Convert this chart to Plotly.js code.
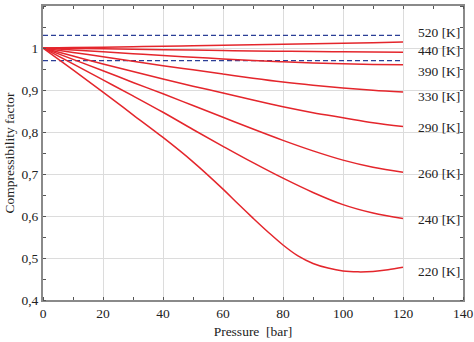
<!DOCTYPE html>
<html>
<head>
<meta charset="utf-8">
<script src="https://cdn.plot.ly/plotly-3.0.1.min.js"></script>
<style>html,body{margin:0;padding:0;background:#fff;}#chart{width:474px;height:342px;}</style>
</head>
<body>
<div id="chart"></div>
<script>
// Pressure [bar]
var pressure = [0, 10, 20, 30, 40, 50, 60, 70, 80, 90, 100, 110, 120];
var pressure220 = [0, 10, 20, 30, 40, 50, 60, 65, 70, 75, 80, 85, 90, 95, 100, 105, 110, 115, 120];
// Compressibility factor per temperature
var z520 = [1, 1.001, 1.002, 1.003, 1.004, 1.0053, 1.0065, 1.0077, 1.009, 1.0102, 1.0115, 1.0127, 1.014];
var z440 = [1, 0.999, 0.998, 0.997, 0.996, 0.995, 0.994, 0.993, 0.9922, 0.9915, 0.991, 0.9905, 0.990];
var z390 = [1, 0.9955, 0.991, 0.9865, 0.982, 0.978, 0.974, 0.970, 0.967, 0.9645, 0.9625, 0.961, 0.960];
var z330 = [1, 0.9895, 0.979, 0.9685, 0.958, 0.948, 0.938, 0.928, 0.919, 0.9115, 0.905, 0.8995, 0.895];
var z290 = [1, 0.981, 0.962, 0.944, 0.926, 0.909, 0.893, 0.876, 0.860, 0.846, 0.834, 0.822, 0.813];
var z260 = [1, 0.973, 0.946, 0.918, 0.891, 0.863, 0.835, 0.807, 0.780, 0.755, 0.733, 0.716, 0.704];
var z240 = [1, 0.962, 0.924, 0.886, 0.847, 0.806, 0.766, 0.727, 0.690, 0.656, 0.627, 0.607, 0.594];
var z220 = [1, 0.948, 0.895, 0.841, 0.787, 0.729, 0.664, 0.629, 0.595, 0.562, 0.531, 0.505, 0.487, 0.476, 0.469, 0.467, 0.468, 0.472, 0.478];
var temps = ['520 [K]', '440 [K]', '390 [K]', '330 [K]', '290 [K]', '260 [K]', '240 [K]', '220 [K]'];
// Reference band (dashed lines)
var bandX = [0, 120];
var bandUpper = 1.03;
var bandLower = 0.97;
// Tick labels
var yTickVals = [0.4, 0.5, 0.6, 0.7, 0.8, 0.9, 1.0, 1.1];
var yTickText = ['0,4', '0,5', '0,6', '0,7', '0,8', '0,9', '1', '1,1'];
var xTickVals = [0, 20, 40, 60, 80, 100, 120, 140];

// Label vertical nudges (layout only)
var labelNudge = [0.022, 0.003, -0.016, -0.011, -0.003, -0.003, -0.002, -0.010];

var series = [z520, z440, z390, z330, z290, z260, z240, z220];
var red = '#e4262c';
var blue = '#2b3f96';
var serif = 'Liberation Serif, Times New Roman, serif';
var traces = [];
traces.push({x: bandX, y: [bandUpper, bandUpper], mode: 'lines', line: {color: blue, width: 1.4, dash: '5px,3px'}, hoverinfo: 'none'});
traces.push({x: bandX, y: [bandLower, bandLower], mode: 'lines', line: {color: blue, width: 1.4, dash: '5px,3px'}, hoverinfo: 'none'});
var annotations = [];
series.forEach(function (s, i) {
  var xs = (s === z220) ? pressure220 : pressure;
  traces.push({x: xs, y: s, mode: 'lines', line: {color: red, width: 1.5, shape: 'spline', smoothing: 1}, name: temps[i]});
  annotations.push({x: 124.3, y: s[s.length - 1] + labelNudge[i], xref: 'x', yref: 'y', text: temps[i], showarrow: false,
    xanchor: 'left', yanchor: 'middle', font: {family: serif, size: 13.5, color: '#222'}});
});

var axisCommon = {
  showline: true, linecolor: '#8a8a8a', linewidth: 2, mirror: 'ticks',
  showgrid: true, gridcolor: '#dcdcdc', gridwidth: 1, zeroline: false,
  ticks: '', tickfont: {family: serif, size: 13.5, color: '#222'}
};
var layout = {
  width: 474, height: 342,
  margin: {l: 43, r: 11, t: 6, b: 42},
  paper_bgcolor: '#fff', plot_bgcolor: '#fff',
  showlegend: false,
  xaxis: Object.assign({}, axisCommon, {
    range: [0, 140], tickvals: xTickVals, ticktext: xTickVals.map(String),
    minor: {dtick: 10, tick0: 0, ticks: 'inside', ticklen: 3, tickcolor: '#555', showgrid: false},
    title: {text: 'Pressure  [bar]', standoff: 6, font: {family: serif, size: 13.5, color: '#222'}}
  }),
  yaxis: Object.assign({}, axisCommon, {
    range: [0.4, 1.1], tickvals: yTickVals, ticktext: yTickText,
    minor: {dtick: 0.05, tick0: 0.4, ticks: 'inside', ticklen: 3, tickcolor: '#555', showgrid: false},
    title: {text: 'Compressibility factor', standoff: 4, font: {family: serif, size: 13.5, color: '#222'}}
  }),
  annotations: annotations
};
Plotly.newPlot('chart', traces, layout, {displayModeBar: false, staticPlot: true});
</script>
</body>
</html>
